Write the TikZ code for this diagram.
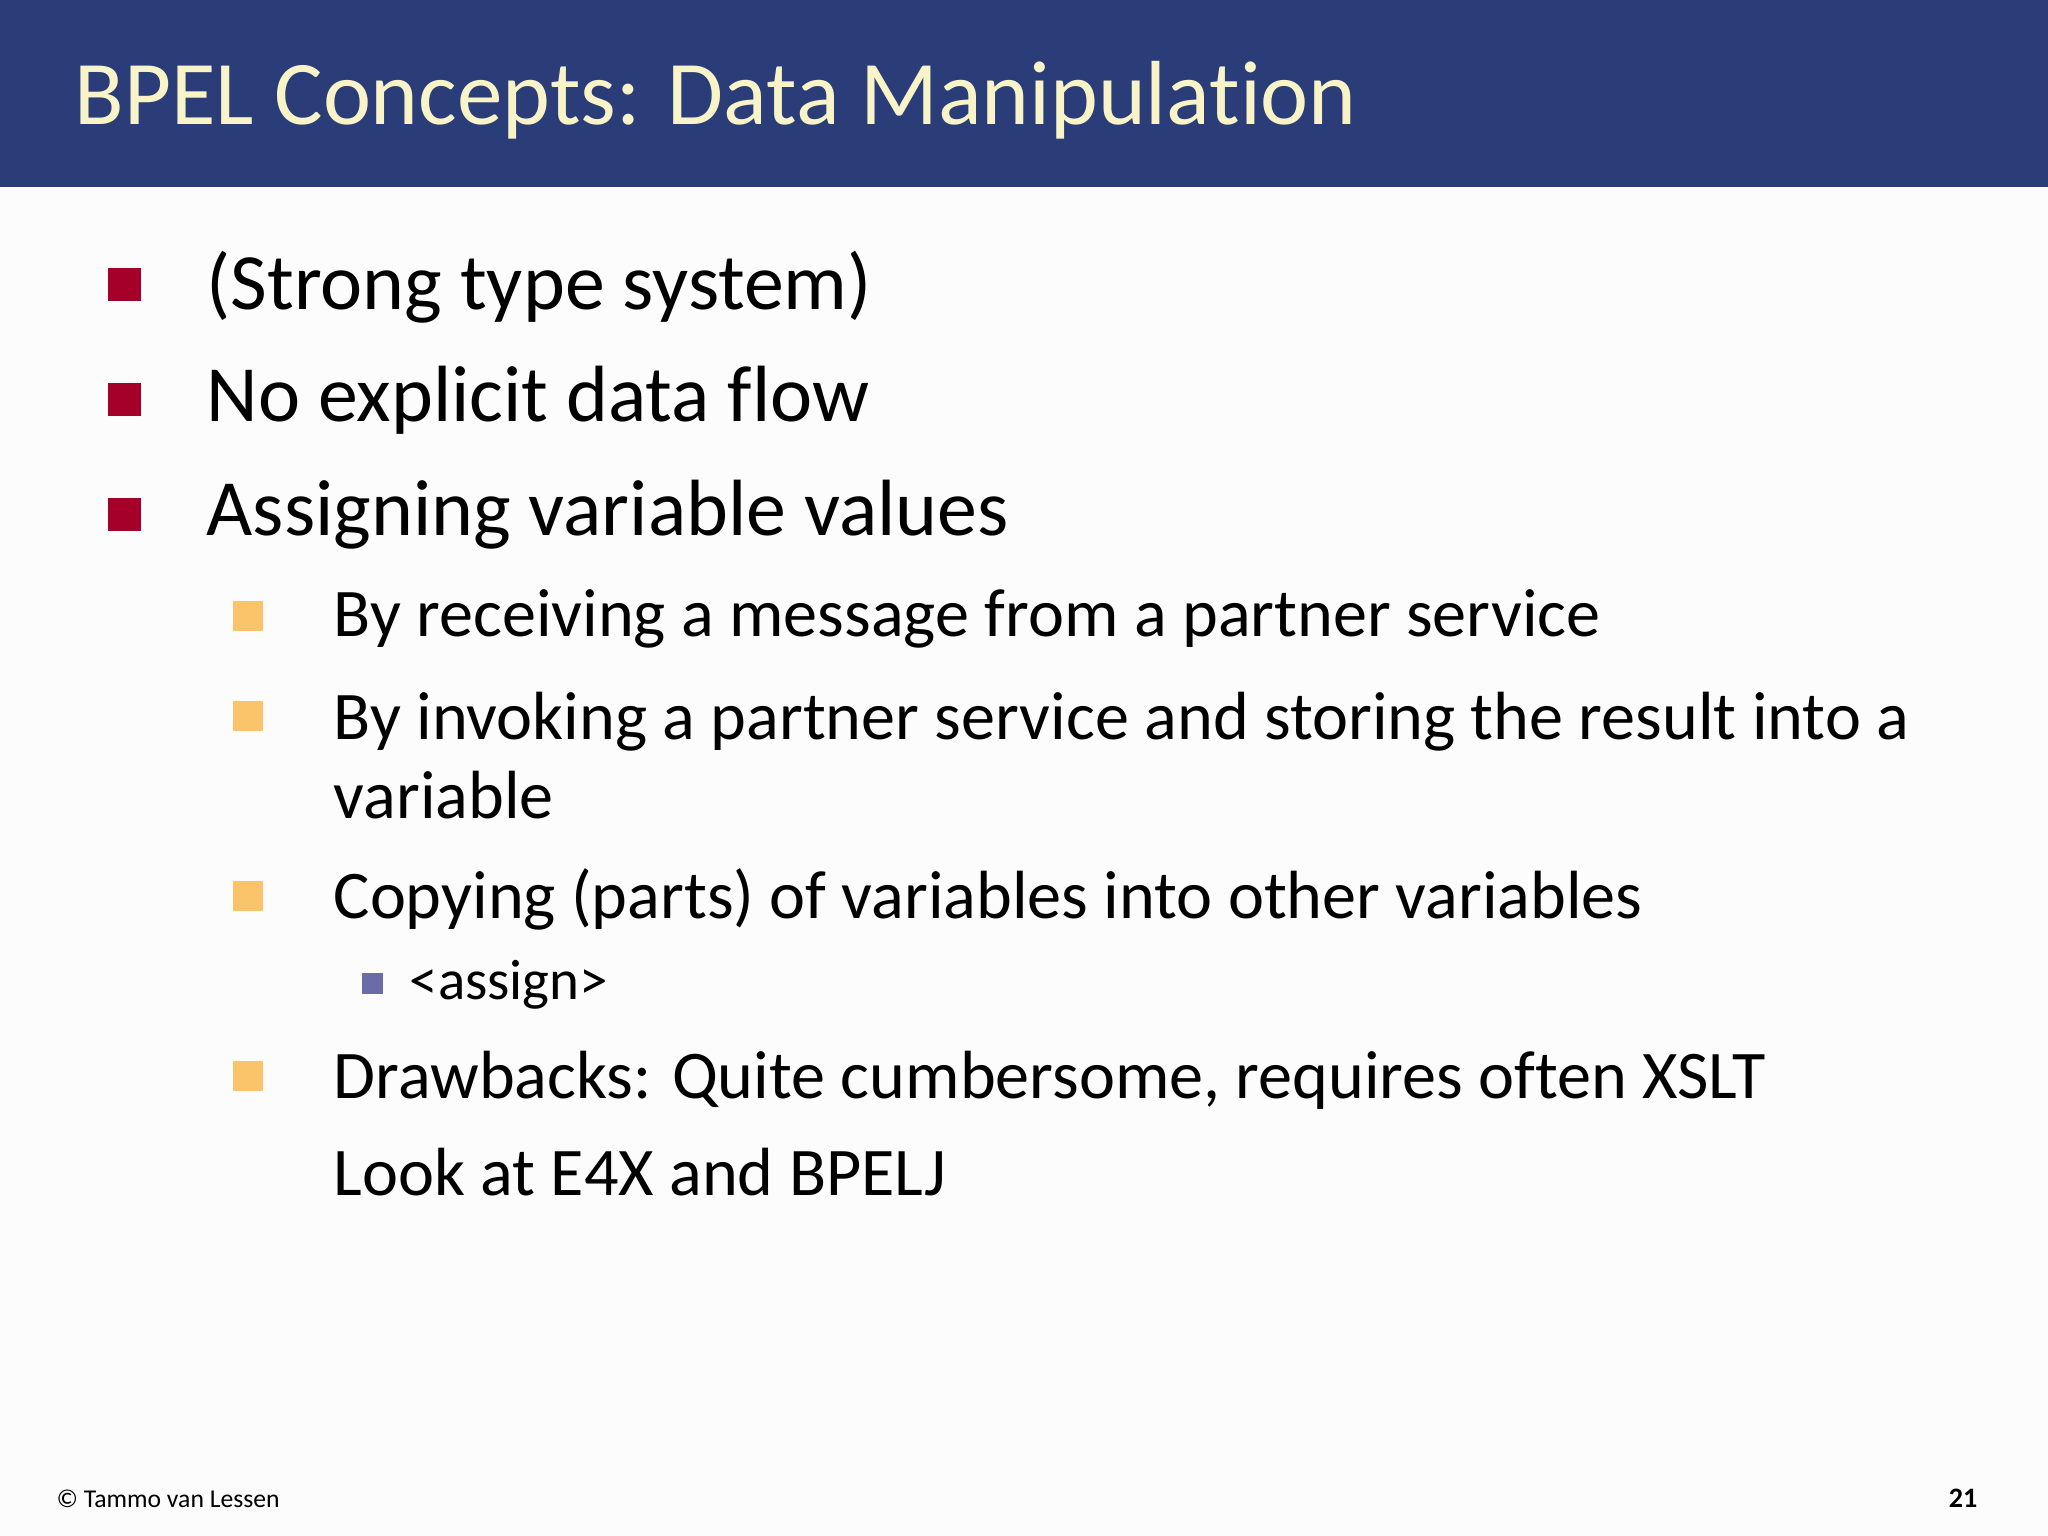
\documentclass[tikz,border=0pt]{standalone}
\usepackage{fontspec}
\setmainfont[Ligatures=NoCommon]{Carlito}
\definecolor{hdr}{HTML}{2B3D78}
\definecolor{ttl}{HTML}{F8F4C8}
\definecolor{bred}{HTML}{A5002A}
\definecolor{borange}{HTML}{FBC36A}
\definecolor{bpurple}{HTML}{6B6BA8}
\begin{document}
\begin{tikzpicture}[x=1cm,y=1cm,
  txt/.style={anchor=base west,inner sep=0pt,text=black},
  lone/.style={txt,font=\fontsize{22.7}{28}\selectfont},
  ltwo/.style={txt,font=\fontsize{19.4}{24}\selectfont},
  lthree/.style={txt,font=\fontsize{16.2}{19}\selectfont},
  bone/.style={fill=bred,minimum size=0.33cm,inner sep=0pt},
  btwo/.style={fill=borange,minimum size=0.30cm,inner sep=0pt},
  bthree/.style={fill=bpurple,minimum size=0.21cm,inner sep=0pt}]
\fill[white!99!black] (0,0) rectangle (20.48,-15.36);
\useasboundingbox (0,0) rectangle (20.48,-15.36);
\fill[hdr] (0,0) rectangle (20.48,-1.87);
\node[txt,text=ttl,font=\fontsize{25.9}{32}\selectfont] (title) at (0.74,-1.25) {BPEL Concepts: Data Manipulation};
\node[bone] (b1) at (1.24,-2.847) {};
\node[bone] (b2) at (1.24,-3.996) {};
\node[bone] (b3) at (1.24,-5.146) {};
\node[lone] (t1) at (2.06,-3.095) {(Strong type system)};
\node[lone] (t2) at (2.06,-4.218) {No explicit data flow};
\node[lone] (t3) at (2.06,-5.355) {Assigning variable values};
\node[btwo] (c1) at (2.48,-6.16) {};
\node[btwo] (c2) at (2.48,-7.16) {};
\node[btwo] (c3) at (2.48,-8.96) {};
\node[btwo] (c4) at (2.48,-10.76) {};
\node[ltwo] (s1) at (3.33,-6.37) {By receiving a message from a partner service};
\node[ltwo] (s2) at (3.33,-7.39) {By invoking a partner service and storing the result into a};
\node[ltwo] (s2b) at (3.33,-8.19) {variable};
\node[ltwo] (s3) at (3.33,-9.18) {Copying (parts) of variables into other variables};
\node[bthree] (d1) at (3.72,-9.83) {};
\node[lthree] (u1) at (4.09,-9.99) {<assign>};
\node[ltwo] (s4) at (3.33,-10.98) {Drawbacks: Quite cumbersome, requires often XSLT};
\node[ltwo] (s5) at (3.33,-11.95) {Look at E4X and BPELJ};
\node[txt,font=\fontsize{7.3}{9}\selectfont] (foot) at (0.56,-15.07) {© Tammo van Lessen};
\node[anchor=base east,inner sep=0pt,font=\fontsize{8}{10}\selectfont\bfseries] (num) at (19.78,-15.07) {21};
\end{tikzpicture}
\end{document}
